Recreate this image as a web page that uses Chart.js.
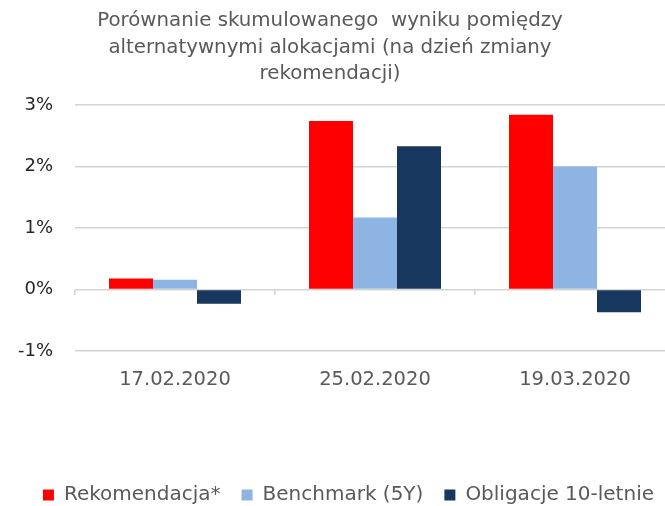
<!DOCTYPE html>
<html>
<head>
<meta charset="utf-8">
<script src="https://cdn.jsdelivr.net/npm/chart.js@4.4.1/dist/chart.umd.min.js"></script>
<style>
  html, body { margin: 0; padding: 0; background: #ffffff; overflow: hidden; }
  #wrap { width: 665px; height: 506px; position: relative; overflow: hidden; }
  #c { position: absolute; left: 0; top: 0; }
</style>
</head>
<body>
<div id="wrap"><canvas id="c" width="675" height="506"></canvas></div>
<script>
const categories = ['17.02.2020', '25.02.2020', '19.03.2020'];
const seriesNames = ['Rekomendacja*', 'Benchmark (5Y)', 'Obligacje 10-letnie'];
const rekomendacja = [0.18, 2.74, 2.84];
const benchmark = [0.16, 1.17, 2.00];
const obligacje = [-0.23, 2.33, -0.37];
const yTicks = [-1, 0, 1, 2, 3];
const titleLines = ['Porównanie skumulowanego  wyniku pomiędzy', 'alternatywnymi alokacjami (na dzień zmiany', 'rekomendacji)'];

const FONT = "'DejaVu Sans', Verdana, sans-serif";
const colors = ['#FF0000', '#8EB4E3', '#17375E'];

new Chart(document.getElementById('c'), {
  type: 'bar',
  data: {
    labels: categories,
    datasets: [
      { label: seriesNames[0], data: rekomendacja, backgroundColor: colors[0], xAxisID: 'x' },
      { label: seriesNames[1], data: benchmark, backgroundColor: colors[1], xAxisID: 'x' },
      { label: seriesNames[2], data: obligacje, backgroundColor: colors[2], xAxisID: 'x' }
    ]
  },
  options: {
    responsive: false,
    animation: false,
    devicePixelRatio: 1,
    datasets: { bar: { categoryPercentage: 0.66, barPercentage: 1.0 } },
    layout: { padding: { left: -15, right: 0, top: 0, bottom: -9 } },
    plugins: {
      title: {
        display: true,
        text: titleLines,
        color: '#595959',
        font: { family: FONT, size: 19.8, weight: 'normal', lineHeight: 1.33 },
        padding: { top: 8, bottom: 18 }
      },
      legend: {
        display: true,
        position: 'bottom',
        align: 'end',
        labels: {
          boxWidth: 11,
          boxHeight: 11,
          padding: 21,
          color: '#595959',
          font: { family: FONT, size: 20 }
        }
      },
      tooltip: { enabled: false }
    },
    scales: {
      y: {
        min: -1,
        max: 3,
        afterFit: (s) => { s.width = 90; },
        afterBuildTicks: (s) => { s.ticks = yTicks.map(v => ({ value: v })); },
        ticks: {
          padding: 22,
          color: '#262626',
          font: { family: FONT, size: 18 },
          callback: (v) => v + '%'
        },
        grid: { color: '#d4d4d4', lineWidth: 1.5, drawTicks: false },
        border: { display: false }
      },
      x: {
        position: 'bottom',
        afterFit: (s) => { s.height = 113; },
        ticks: { padding: 9, color: '#595959', font: { family: FONT, size: 19.5 } },
        grid: { display: false },
        border: { display: false }
      },
      x2: {
        type: 'category',
        labels: categories,
        position: { y: 0 },
        offset: true,
        ticks: { display: false },
        grid: { drawOnChartArea: false, drawTicks: true, tickLength: 5, color: '#d4d4d4', lineWidth: 1.5, offset: true },
        border: { display: false }
      }
    }
  }
});
</script>
</body>
</html>
